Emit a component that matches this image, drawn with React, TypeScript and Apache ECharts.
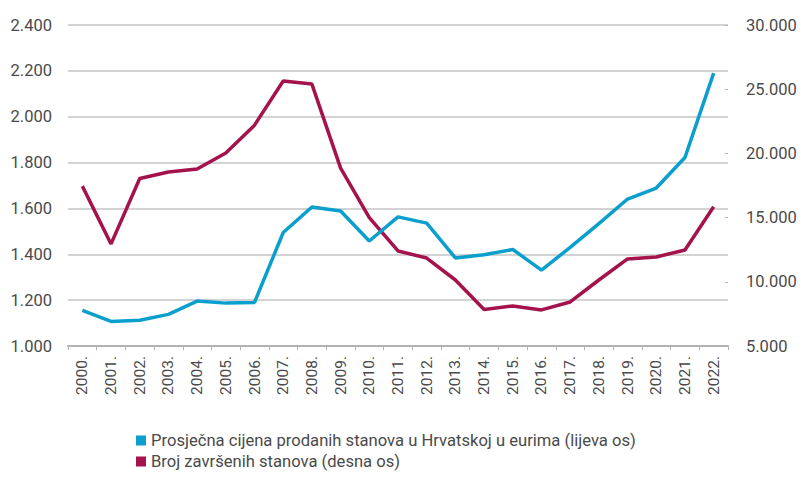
import React, { useEffect, useRef } from "react";
import * as echarts from "echarts";

const years = ["2000.", "2001.", "2002.", "2003.", "2004.", "2005.", "2006.", "2007.", "2008.", "2009.", "2010.", "2011.", "2012.", "2013.", "2014.", "2015.", "2016.", "2017.", "2018.", "2019.", "2020.", "2021.", "2022."];
const avgPrice = [1155, 1107, 1112, 1138, 1196, 1187, 1190, 1495, 1606, 1589, 1458, 1563, 1536, 1384, 1398, 1421, 1331, 1430, 1534, 1641, 1689, 1822, 2190];
const completedFlats = [17450, 12950, 18050, 18550, 18780, 20030, 22200, 25640, 25400, 18850, 15000, 12400, 11850, 10140, 7850, 8115, 7810, 8430, 10140, 11780, 11930, 12480, 15850];
const seriesNames = ["Prosječna cijena prodanih stanova u Hrvatskoj u eurima (lijeva os)", "Broj završenih stanova (desna os)"];

const fmt = (v: number) => {
  const s = Math.round(v).toString();
  return s.replace(/\B(?=(\d{3})+(?!\d))/g, ".");
};

const FONT = "Roboto";
const TXT = "#4a4a4a";

const legendBase = {
  orient: "horizontal",
  left: 136,
  padding: 0,
  itemWidth: 10,
  itemHeight: 10,
  icon: "rect",
  textStyle: { fontFamily: FONT, fontSize: 16.6, color: TXT, padding: [0, 0, 0, 0] },
};

export default function App() {
  const ref = useRef<HTMLDivElement>(null);
  useEffect(() => {
    if (!ref.current) return;
    const chart = echarts.init(ref.current, null, { renderer: "svg" });
    chart.setOption({
      animation: false,
      backgroundColor: "#ffffff",
      textStyle: { fontFamily: FONT },
      grid: { left: 68, right: 75, top: 25, bottom: 134, containLabel: false },
      legend: [
        { ...legendBase, top: 432, data: [seriesNames[0]] },
        { ...legendBase, top: 453, data: [seriesNames[1]] },
      ],
      xAxis: {
        type: "category",
        data: years,
        boundaryGap: true,
        axisLine: { show: true, lineStyle: { color: "#b3b3b3", width: 2 } },
        axisTick: { show: true, length: 4, lineStyle: { color: "#b3b3b3", width: 1 } },
        axisLabel: { rotate: 90, margin: 10, fontSize: 15.5, color: TXT, fontFamily: FONT, interval: 0 },
      },
      yAxis: [
        {
          type: "value",
          min: 1000,
          max: 2400,
          interval: 200,
          position: "left",
          axisLine: { show: false },
          axisTick: { show: false },
          splitLine: { show: true, lineStyle: { color: "#c4c4c4", width: 1.5 } },
          axisLabel: { formatter: fmt, fontSize: 16.5, color: TXT, fontFamily: FONT, margin: 16 },
        },
        {
          type: "value",
          min: 5000,
          max: 30000,
          interval: 5000,
          position: "right",
          axisLine: { show: false },
          axisTick: { show: true, inside: true, length: 3, lineStyle: { color: "#b3b3b3" } },
          splitLine: { show: false },
          axisLabel: { formatter: fmt, fontSize: 16.5, color: TXT, fontFamily: FONT, margin: 18 },
        },
      ],
      series: [
        {
          name: seriesNames[0],
          type: "line",
          yAxisIndex: 0,
          data: avgPrice,
          showSymbol: false,
          symbol: "none",
          color: "#0a9fcd",
          lineStyle: { color: "#0a9fcd", width: 3.5 },
          z: 3,
        },
        {
          name: seriesNames[1],
          type: "line",
          yAxisIndex: 1,
          data: completedFlats,
          showSymbol: false,
          symbol: "none",
          color: "#a4134b",
          lineStyle: { color: "#a4134b", width: 3.5 },
          z: 2,
        },
      ],
    });
    return () => chart.dispose();
  }, []);
  return <div ref={ref} style={{ width: 803, height: 480, position: "absolute", left: 0, top: 0 }} />;
}
